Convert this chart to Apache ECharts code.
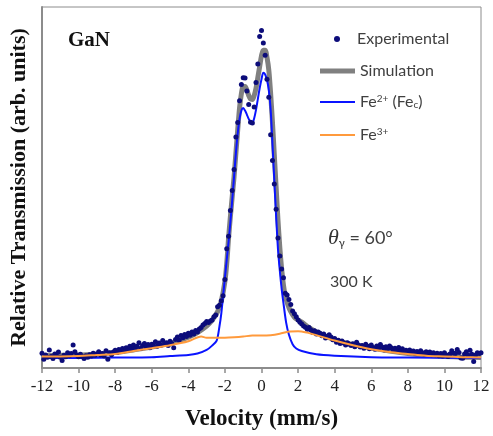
<!DOCTYPE html>
<html>
<head>
<meta charset="utf-8">
<script src="https://cdn.jsdelivr.net/npm/echarts@6/dist/echarts.min.js"></script>
<style>html,body{margin:0;padding:0;background:#fff;}#c{width:493px;height:436px;}</style>
</head>
<body>
<div id="c"></div>
<script>
// velocity (mm/s), relative transmission (arb. units)
const experimental = [
[-12.0,4.1],[-11.9,2.4],[-11.8,3.6],[-11.7,3.0],[-11.6,5.0],[-11.5,3.2],[-11.4,2.6],[-11.3,3.9],[-11.2,3.3],[-11.1,4.4],
[-11.0,3.0],[-10.9,2.1],[-10.8,3.5],[-10.7,3.1],[-10.6,4.2],[-10.5,3.4],[-10.4,4.0],[-10.3,6.4],[-10.2,4.5],[-10.1,3.6],
[-10.0,3.1],[-9.9,3.8],[-9.8,3.2],[-9.7,2.6],[-9.6,3.4],[-9.5,3.0],[-9.4,3.7],[-9.3,3.3],[-9.2,4.1],[-9.1,3.5],
[-9.0,3.9],[-8.9,4.5],[-8.8,3.6],[-8.7,4.0],[-8.6,3.3],[-8.5,4.8],[-8.4,2.4],[-8.3,4.2],[-8.2,3.7],[-8.1,4.4],
[-8.0,4.9],[-7.9,4.3],[-7.8,5.1],[-7.7,4.6],[-7.6,5.4],[-7.5,4.8],[-7.4,5.6],[-7.3,4.9],[-7.2,6.0],[-7.1,5.3],
[-7.0,6.4],[-6.9,5.5],[-6.8,6.0],[-6.7,7.0],[-6.6,5.4],[-6.5,6.2],[-6.4,6.8],[-6.3,5.9],[-6.2,6.5],[-6.1,5.6],
[-6.0,6.6],[-5.9,6.1],[-5.8,7.3],[-5.7,6.0],[-5.6,6.9],[-5.5,6.3],[-5.4,7.6],[-5.3,6.5],[-5.2,7.0],[-5.1,6.2],
[-5.0,7.4],[-4.9,6.8],[-4.8,5.6],[-4.7,7.9],[-4.6,8.6],[-4.5,7.7],[-4.4,9.0],[-4.3,8.4],[-4.2,9.3],[-4.1,8.7],
[-4.0,9.6],[-3.9,9.1],[-3.8,10.0],[-3.7,9.4],[-3.6,10.4],[-3.5,10.0],[-3.4,10.8],[-3.3,11.2],[-3.2,11.9],[-3.1,12.3],
[-3.0,12.9],[-2.9,12.6],[-2.8,13.0],[-2.7,13.3],[-2.6,14.2],[-2.5,14.7],[-2.4,17.0],[-2.3,17.4],[-2.2,18.6],[-2.1,20.0],
[-2.0,24.5],[-1.9,33.0],[-1.8,36.5],[-1.7,43.6],[-1.6,49.2],[-1.5,55.0],[-1.4,64.0],[-1.3,68.0],[-1.2,74.0],[-1.1,78.5],
[-1.0,80.4],[-0.9,80.3],[-0.8,76.7],[-0.7,73.0],[-0.6,68.1],[-0.5,67.9],[-0.4,72.3],[-0.3,79.1],[-0.2,84.2],[-0.1,91.8],
[0.0,93.5],[0.1,90.0],[0.2,86.6],[0.3,80.0],[0.4,75.0],[0.5,64.6],[0.6,57.5],[0.7,51.0],[0.8,44.0],[0.9,36.0],
[1.0,31.0],[1.1,27.4],[1.2,25.0],[1.3,20.7],[1.4,20.2],[1.5,19.0],[1.6,17.6],[1.7,15.8],[1.8,15.0],[1.9,14.2],
[2.0,13.3],[2.1,12.7],[2.2,12.2],[2.3,11.6],[2.4,11.3],[2.5,10.7],[2.6,11.2],[2.7,10.5],[2.8,9.8],[2.9,10.3],
[3.0,9.4],[3.1,10.0],[3.2,9.6],[3.3,8.9],[3.4,9.4],[3.5,8.3],[3.6,8.8],[3.7,9.2],[3.8,8.6],[3.9,7.8],
[4.0,8.2],[4.1,7.1],[4.2,7.7],[4.3,6.8],[4.4,7.5],[4.5,6.9],[4.6,6.4],[4.7,7.0],[4.8,6.6],[4.9,6.2],
[5.0,6.7],[5.1,5.9],[5.2,7.1],[5.3,6.4],[5.4,5.8],[5.5,6.2],[5.6,5.5],[5.7,6.6],[5.8,6.0],[5.9,5.3],
[6.0,6.4],[6.1,5.7],[6.2,5.2],[6.3,6.1],[6.4,5.5],[6.5,6.5],[6.6,5.8],[6.7,5.0],[6.8,5.9],[6.9,5.4],
[7.0,6.1],[7.1,5.6],[7.2,4.9],[7.3,5.5],[7.4,5.0],[7.5,5.7],[7.6,4.8],[7.7,5.3],[7.8,4.5],[7.9,4.9],
[8.0,4.4],[8.1,5.0],[8.2,4.3],[8.3,4.7],[8.4,4.1],[8.5,4.6],[8.6,4.0],[8.7,4.8],[8.8,4.2],[8.9,3.8],
[9.0,4.5],[9.1,4.0],[9.2,4.4],[9.3,3.7],[9.4,4.2],[9.5,3.6],[9.6,4.1],[9.7,3.4],[9.8,4.0],[9.9,3.3],
[10.0,4.2],[10.1,3.6],[10.2,3.2],[10.3,3.9],[10.4,4.8],[10.5,4.1],[10.6,4.0],[10.7,5.1],[10.8,4.3],[10.9,2.8],
[11.0,2.7],[11.1,3.9],[11.2,4.5],[11.3,3.5],[11.4,4.9],[11.5,3.8],[11.6,1.8],[11.7,3.6],[11.8,4.2],[11.9,4.0],
[12.0,4.2]
];
const simulation = [
[-12,3.4],[-11,3.5],[-10,3.6],[-9,3.9],[-8,4.3],[-7,5.0],[-6,5.8],[-5,6.9],[-4.5,7.6],[-4,8.5],[-3.5,9.8],[-3,11.6],
[-2.7,13.2],[-2.4,15.6],[-2.2,18.5],[-2.0,24],[-1.9,29],[-1.8,36],[-1.7,42],[-1.6,47.5],[-1.5,53],[-1.4,59.5],[-1.3,66],
[-1.2,72],[-1.1,76],[-1.0,78],[-0.9,78],[-0.8,77],[-0.7,75.5],[-0.6,74.5],[-0.5,74.4],[-0.4,75.5],[-0.3,77.5],[-0.2,80.5],
[-0.1,83.5],[0,86.5],[0.1,88],[0.2,88],[0.3,86],[0.4,82.5],[0.5,76],[0.6,68],[0.7,59],[0.8,50],[0.9,41],[1.0,33.5],
[1.1,27.5],[1.2,23],[1.3,20],[1.45,17.4],[1.6,15.6],[1.8,14],[2.0,13.3],[2.2,12.7],[2.6,11.2],[3.0,10],[3.5,8.8],[4,7.8],
[4.5,7.1],[5,6.5],[6,5.5],[7,4.7],[8,4.0],[9,3.5],[10,3.2],[11,3.0],[12,2.9]
];
const fe2 = [
[-12,2.75],[-10,2.8],[-8,2.9],[-6,3.0],[-5,3.3],[-4,3.6],[-3.5,4.0],[-3,5.0],[-2.7,6.2],[-2.45,7.6],[-2.3,11.5],[-2.2,15],
[-2.1,20],[-2.0,25],[-1.9,30],[-1.8,35],[-1.7,40.5],[-1.6,46.5],[-1.5,53],[-1.4,59.5],[-1.3,65],[-1.2,69],[-1.1,71.3],[-1.0,72],
[-0.9,71.3],[-0.8,70.2],[-0.7,69],[-0.6,68.2],[-0.5,68],[-0.4,69.2],[-0.3,71.5],[-0.2,74.5],[-0.1,77.5],[0,80],[0.1,81.8],
[0.2,81.3],[0.3,79.8],[0.4,77],[0.5,71.6],[0.6,62],[0.7,52],[0.8,42],[0.9,33],[1.0,27],[1.1,22],[1.2,18],[1.35,12.5],
[1.5,9.2],[1.7,6.6],[1.9,5.4],[2.2,4.7],[3,3.8],[4,3.4],[6,3.0],[8,2.9],[12,2.75]
];
const fe3 = [
[-12,3.2],[-11,3.2],[-10,3.3],[-9,3.6],[-8,3.9],[-7,4.7],[-6,5.5],[-5,6.3],[-4,7.4],[-3.3,8.7],[-3,8.4],[-2.5,8.4],
[-2,8.4],[-1.5,8.5],[-1,8.7],[-0.5,9.0],[0,9.0],[0.5,9.1],[1,9.5],[1.5,10.1],[2,10.2],[2.5,9.8],[3,9.1],[4,7.6],
[5,6.3],[6,5.2],[7,4.4],[8,3.9],[9,3.4],[10,3.2],[11,3.0],[12,2.9]
];
const xTicks = [-12,-10,-8,-6,-4,-2,0,2,4,6,8,10,12];

const serif = '"Liberation Serif", "DejaVu Serif", serif';
const sans = 'Lato, "Open Sans", sans-serif';
function legendText(padLeft) {
  return {
    fontFamily: sans, fontSize: 16, color: '#404040', padding: [0, 0, 0, padLeft],
    rich: {
      sup: { fontFamily: sans, fontSize: 10, color: '#404040', verticalAlign: 'top', lineHeight: 10, padding: [0, 0, 8, 0] },
      sub: { fontFamily: sans, fontSize: 10, color: '#404040', verticalAlign: 'bottom', lineHeight: 10, padding: [8, 0, 0, 0] }
    }
  };
}
function oneLegend(name, top, left, icon, w, h, padLeft) {
  return {
    data: [{ name: name, icon: icon }], top: top, left: left, orient: 'vertical', padding: 0,
    itemWidth: w, itemHeight: h, textStyle: legendText(padLeft), selectedMode: false,
    formatter: function (n) {
      if (n === 'Fe2') return 'Fe{sup|2+} (Fe{sub|c})';
      if (n === 'Fe3') return 'Fe{sup|3+}';
      return n;
    }
  };
}
const chart = echarts.init(document.getElementById('c'), null, { renderer: 'canvas' });
chart.setOption({
  animation: false,
  backgroundColor: '#fff',
  grid: { left: 36, right: 12, top: 7, bottom: 66, show: true, borderColor: '#8c8c8c', borderWidth: 1 },
  legend: [
    oneLegend('Experimental', 31, 334, 'circle', 6, 6, 12),
    oneLegend('Simulation', 63, 320, 'rect', 35, 5, 0),
    oneLegend('Fe2', 92, 320, 'rect', 35, 2, 0),
    oneLegend('Fe3', 127, 320, 'rect', 35, 2, 0)
  ],
  xAxis: {
    type: 'value', min: -12, max: 12, interval: 2,
    name: 'Velocity (mm/s)', nameLocation: 'middle', nameGap: 40,
    nameTextStyle: { fontFamily: serif, fontWeight: 'bold', fontSize: 23, color: '#111' },
    axisLine: { show: true, onZero: false, lineStyle: { color: '#8c8c8c', width: 2 } },
    axisTick: { show: true, inside: false, length: 5, lineStyle: { color: '#8c8c8c', width: 1.5 } },
    axisLabel: { margin: 10, fontFamily: serif, fontSize: 17, color: '#222',
      formatter: function (v) { return xTicks.indexOf(v) >= 0 ? String(v) : ''; } },
    splitLine: { show: false }
  },
  yAxis: {
    type: 'value', min: 0, max: 100,
    name: 'Relative Transmission (arb. units)', nameLocation: 'middle', nameGap: 12,
    nameTextStyle: { fontFamily: serif, fontWeight: 'bold', fontSize: 22, color: '#111' },
    axisLine: { show: true, onZero: false, lineStyle: { color: '#8c8c8c', width: 2 } },
    axisTick: { show: false }, axisLabel: { show: false }, splitLine: { show: false }
  },
  series: [
    { name: 'Simulation', type: 'line', data: simulation, showSymbol: false, symbol: 'none', smooth: 0.3,
      lineStyle: { color: '#808080', width: 5 }, itemStyle: { color: '#808080' }, z: 2 },
    { name: 'Fe2', type: 'line', data: fe2, showSymbol: false, symbol: 'none', smooth: 0.3,
      lineStyle: { color: '#0a14ff', width: 2 }, itemStyle: { color: '#0a14ff' }, z: 3 },
    { name: 'Experimental', type: 'scatter', data: experimental, symbol: 'circle', symbolSize: 5,
      itemStyle: { color: '#0c0c7a', opacity: 1 }, z: 4 },
    { name: 'Fe3', type: 'line', data: fe3, showSymbol: false, symbol: 'none', smooth: 0.3,
      lineStyle: { color: '#ff9a3c', width: 2 }, itemStyle: { color: '#ff9a3c' }, z: 5 }
  ],
  graphic: [
    { type: 'text', left: 68, top: 30, style: { text: 'GaN', fontFamily: serif, fontWeight: 'bold', fontSize: 21, fill: '#111' } },
    { type: 'text', left: 328, top: 227, style: {
        text: '{th|θ}{g|γ}{n| = 60°}',
        rich: {
          th: { fontFamily: serif, fontStyle: 'italic', fontSize: 22, fill: '#333' },
          g: { fontFamily: sans, fontSize: 11, fill: '#333', verticalAlign: 'bottom', padding: [10, 0, 0, 0] },
          n: { fontFamily: sans, fontSize: 18, fill: '#404040' }
        } } },
    { type: 'text', left: 330, top: 274, style: { text: '300 K', fontFamily: sans, fontSize: 16, fill: '#404040' } }
  ]
});
</script>
</body>
</html>
